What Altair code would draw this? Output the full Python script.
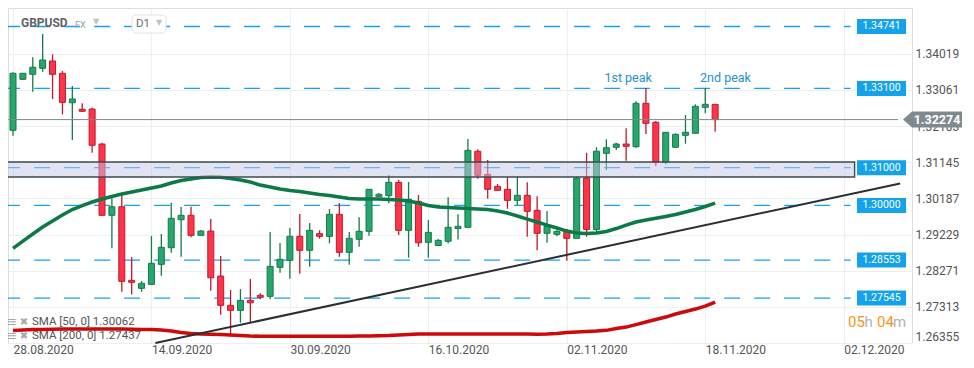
import altair as alt
import pandas as pd

symbol = "GBPUSD"
tick_idx = [0, 14, 28, 42, 56, 70, 84]
tick_labels = ["28.08.2020", "14.09.2020", "30.09.2020", "16.10.2020",
               "02.11.2020", "18.11.2020", "02.12.2020"]
y_ticks = [1.26355, 1.27313, 1.28271, 1.29229, 1.30187, 1.31145, 1.32103, 1.33061, 1.34019]

opens = [1.31990, 1.33342, 1.33474, 1.33633, 1.33827, 1.33501, 1.32721, 1.32547, 1.32554, 1.31627,
         1.29738, 1.29965, 1.28015, 1.27803, 1.27909, 1.28439, 1.28879, 1.29621, 1.29738, 1.29208,
         1.29321, 1.28129, 1.27353, 1.27220, 1.27485, 1.27618, 1.27591, 1.28360, 1.28545, 1.29181,
         1.28810, 1.29250, 1.29181, 1.29764, 1.28757, 1.29102, 1.29314, 1.30230, 1.30257, 1.30612,
         1.29340, 1.30109, 1.29022, 1.28937, 1.29049, 1.29388, 1.29420, 1.31434, 1.30824, 1.30506,
         1.30427, 1.30135, 1.30268, 1.29870, 1.29261, 1.29234, 1.29314, 1.29128, 1.30726, 1.29361,
         1.31381, 1.31540, 1.31627, 1.31555, 1.32706, 1.32202, 1.31142, 1.31540, 1.31858, 1.31911,
         1.32600, 1.32679]
highs = [1.33527, 1.33509, 1.33925, 1.34542, 1.34004, 1.33562, 1.33164, 1.32706, 1.32589, 1.31661,
         1.30188, 1.30294, 1.28633, 1.27996, 1.29189, 1.29242, 1.30071, 1.29957, 1.29965, 1.29348,
         1.29639, 1.28659, 1.27758, 1.27784, 1.28049, 1.27671, 1.29295, 1.29003, 1.29401, 1.29772,
         1.29533, 1.29340, 1.29904, 1.30063, 1.29295, 1.29685, 1.30435, 1.30328, 1.30805, 1.30673,
         1.30620, 1.30275, 1.29613, 1.29109, 1.30217, 1.29764, 1.31759, 1.31489, 1.31203, 1.30567,
         1.30745, 1.30771, 1.30612, 1.30241, 1.29851, 1.29340, 1.29382, 1.30766, 1.31396, 1.31542,
         1.31752, 1.31661, 1.32043, 1.32759, 1.33111, 1.32236, 1.31945, 1.31911, 1.32395, 1.32679,
         1.33111, 1.32687]
lows = [1.31847, 1.33323, 1.33013, 1.33543, 1.32820, 1.32414, 1.31733, 1.32490, 1.31396, 1.29730,
        1.28863, 1.27713, 1.27639, 1.27713, 1.27896, 1.28137, 1.28746, 1.28640, 1.29155, 1.29203,
        1.27739, 1.27103, 1.26520, 1.26891, 1.26891, 1.27512, 1.27512, 1.28216, 1.28057, 1.28190,
        1.28375, 1.29117, 1.28996, 1.28640, 1.28428, 1.28905, 1.29197, 1.30222, 1.30056, 1.29215,
        1.28614, 1.28905, 1.28614, 1.28924, 1.28990, 1.29096, 1.29415, 1.30707, 1.30175, 1.30395,
        1.29912, 1.30003, 1.29170, 1.28810, 1.29011, 1.29181, 1.28534, 1.29123, 1.29170, 1.29295,
        1.30938, 1.31468, 1.31184, 1.31529, 1.31892, 1.31044, 1.31089, 1.31535, 1.31635, 1.31906,
        1.32441, 1.31953]
closes = [1.33501, 1.33501, 1.33660, 1.33853, 1.33474, 1.32732, 1.32820, 1.32494, 1.31593, 1.29738,
          1.29965, 1.27989, 1.27962, 1.27936, 1.28466, 1.28890, 1.29658, 1.29738, 1.29208, 1.29321,
          1.28084, 1.27353, 1.27220, 1.27485, 1.27421, 1.27565, 1.28386, 1.28572, 1.29181, 1.28810,
          1.29340, 1.29181, 1.29764, 1.28757, 1.29128, 1.29314, 1.30427, 1.30294, 1.30612, 1.29340,
          1.30162, 1.29011, 1.29287, 1.29075, 1.29420, 1.29446, 1.31460, 1.30798, 1.30427, 1.30400,
          1.30135, 1.30268, 1.29844, 1.29261, 1.29446, 1.29314, 1.29128, 1.30726, 1.29361, 1.31436,
          1.31529, 1.31627, 1.31566, 1.32706, 1.32176, 1.31142, 1.31937, 1.31884, 1.31937, 1.32626,
          1.32679, 1.32274]
sma50 = [1.28863, 1.29056, 1.29242, 1.29427, 1.29586, 1.29745, 1.29891, 1.29997, 1.30090, 1.30169,
         1.30236, 1.30302, 1.30355, 1.30408, 1.30461, 1.30514, 1.30593, 1.30660, 1.30699, 1.30739,
         1.30753, 1.30745, 1.30713, 1.30673, 1.30620, 1.30540, 1.30487, 1.30434, 1.30395, 1.30368,
         1.30328, 1.30289, 1.30262, 1.30222, 1.30183, 1.30169, 1.30169, 1.30169, 1.30156, 1.30143,
         1.30116, 1.30063, 1.29997, 1.29957, 1.29944, 1.29931, 1.29918, 1.29904, 1.29891, 1.29851,
         1.29798, 1.29719, 1.29639, 1.29560, 1.29480, 1.29401, 1.29321, 1.29268, 1.29255, 1.29268,
         1.29308, 1.29388, 1.29480, 1.29560, 1.29613, 1.29658, 1.29706, 1.29759, 1.29825, 1.29891,
         1.29971, 1.30062]
sma200 = [1.26685, 1.26698, 1.26711, 1.26711, 1.26717, 1.26724, 1.26724, 1.26724, 1.26724, 1.26724,
          1.26724, 1.26724, 1.26719, 1.26714, 1.26711, 1.26698, 1.26671, 1.26631, 1.26605, 1.26592,
          1.26586, 1.26579, 1.26565, 1.26552, 1.26539, 1.26534, 1.26531, 1.26531, 1.26531, 1.26531,
          1.26531, 1.26531, 1.26531, 1.26531, 1.26534, 1.26539, 1.26539, 1.26545, 1.26552, 1.26565,
          1.26579, 1.26592, 1.26592, 1.26592, 1.26592, 1.26592, 1.26592, 1.26592, 1.26592, 1.26592,
          1.26592, 1.26592, 1.26592, 1.26586, 1.26592, 1.26605, 1.26631, 1.26645, 1.26658, 1.26671,
          1.26690, 1.26737, 1.26777, 1.26843, 1.26910, 1.26976, 1.27042, 1.27122, 1.27188, 1.27254,
          1.27334, 1.27437]

levels = [1.34741, 1.33100, 1.31000, 1.30000, 1.28553, 1.27545]
zone = [1.30752, 1.31150]
last_price = 1.32274
trend_idx = [14.4, 89.7]
trend_price = [1.26355, 1.30583]
peak_idx = [62.2, 72.05]
peak_price = [1.33376, 1.33376]
peak_labels = ["1st peak", "2nd peak"]
timer_parts = ["05", "h", "04", "m"]

UP_FILL, UP_LINE = "#27a66d", "#167a49"
DN_FILL, DN_LINE = "#ff3448", "#bd1a2e"
BLUE = "#14a3ea"

cdf = pd.DataFrame({"i": list(range(len(opens))), "open": opens, "high": highs,
                    "low": lows, "close": closes, "sma50": sma50, "sma200": sma200})
ldf = pd.DataFrame({"price": levels})
zdf = pd.DataFrame({"lo": [zone[0]], "hi": [zone[1]]})
pdf = pd.DataFrame({"price": [last_price]})
tdf = pd.DataFrame({"i": trend_idx, "price": trend_price})
kdf = pd.DataFrame({"i": peak_idx, "price": peak_price, "label": peak_labels})

lab_js = "[" + ",".join("'%s'" % d for d in tick_labels) + "]"
idx_js = "[" + ",".join(str(v) for v in tick_idx) + "]"

xscale = alt.Scale(domain=[0, 90.4], nice=False, zero=False)
yscale = alt.Scale(domain=[1.26355, 1.35231], nice=False, zero=False)
xaxis = alt.Axis(values=tick_idx, labelExpr=f"{lab_js}[indexof({idx_js}, datum.value)]",
                 grid=True, gridColor="#efefef", domain=False, ticks=False,
                 labelAlign="left", labelBaseline="top", labelPadding=1, labelFlush=False,
                 labelOverlap=False, labelFontSize=12, labelColor="#555555", title=None)
yaxis = alt.Axis(orient="right", values=y_ticks, format=".5f", grid=True, gridColor="#eeeeee",
                 domain=False, ticks=False, labelPadding=3, labelFlush=True, labelOverlap=False,
                 labelFontSize=12, labelColor="#555555", title=None)


def X(f):
    return alt.X(f, type="quantitative", scale=xscale, axis=xaxis, title=None)


def Y(f):
    return alt.Y(f, type="quantitative", scale=yscale, axis=yaxis, title=None)


def XD(v):
    return alt.XDatum(v, type="quantitative", scale=xscale, axis=xaxis)


up = "datum.close >= datum.open"

level_lines = alt.Chart(ldf).mark_rule(color=BLUE, strokeWidth=1.3, strokeDash=[16, 14]).encode(
    x=XD(-0.9), x2=alt.X2Datum(84.7), y=Y("price"))

wicks = alt.Chart(cdf).mark_rule(strokeWidth=1.3).encode(
    x=X("i"), y=Y("low"), y2="high",
    color=alt.condition(up, alt.value(UP_LINE), alt.value(DN_LINE)))

bodies = alt.Chart(cdf).mark_bar(size=6, strokeWidth=1).encode(
    x=X("i"), y=Y("open"), y2="close",
    fill=alt.condition(up, alt.value(UP_FILL), alt.value(DN_FILL)),
    stroke=alt.condition(up, alt.value(UP_LINE), alt.value(DN_LINE)))

sma200_line = alt.Chart(cdf).mark_line(color="#cc0a0a", strokeWidth=3.5).encode(
    x=X("i"), y=Y("sma200"))
sma50_line = alt.Chart(cdf).mark_line(color="#0b7a46", strokeWidth=3.5).encode(
    x=X("i"), y=Y("sma50"))

trend = alt.Chart(tdf).mark_line(color="#2a2f36", strokeWidth=2).encode(x=X("i"), y=Y("price"))

zone_rect = alt.Chart(zdf).mark_rect(fill="#c3c7e8", fillOpacity=0.5, stroke="#3e4852",
                                     strokeWidth=1.4).encode(
    x=XD(-1.5), x2=alt.X2Datum(85.1), y=Y("lo"), y2="hi")

price_line = alt.Chart(pdf).mark_rule(color="#7d888d", strokeWidth=1).encode(
    x=XD(-1), x2=alt.X2Datum(89.5), y=Y("price"))

box_shape = "M-1,-0.306L1,-0.306L1,0.306L-1,0.306Z"
level_boxes = alt.Chart(ldf).mark_point(shape=box_shape, filled=True, size=2401, opacity=1,
                                        color=BLUE, strokeWidth=0).encode(
    x=alt.value(873.5), y=Y("price"))
level_text = alt.Chart(ldf).mark_text(color="white", fontSize=10.5, align="center",
                                      baseline="middle").encode(
    x=alt.value(873.5), y=Y("price"), text=alt.Text("price:Q", format=".5f"))

arrow_shape = "M-1,0L-0.695,-0.271L1,-0.271L1,0.271L-0.695,0.271Z"
price_box = alt.Chart(pdf).mark_point(shape=arrow_shape, filled=True, size=3481, opacity=1,
                                      color="#7f8a8f", strokeWidth=0).encode(
    x=alt.value(924.5), y=Y("price"))
price_text = alt.Chart(pdf).mark_text(color="white", fontSize=12.5, fontWeight="bold",
                                      align="center", baseline="middle").encode(
    x=alt.value(929), y=Y("price"), text=alt.Text("price:Q", format=".5f"))

peaks = alt.Chart(kdf).mark_text(color="#2590d0", fontSize=12.5, align="center",
                                 baseline="middle").encode(
    x=X("i"), y=Y("price"), text="label:N")


def label(txt, x, y, size=11.5, color="#555555", align="left", weight="normal", font="Roboto"):
    return alt.Chart(pd.DataFrame({"t": [txt]})).mark_text(
        fontSize=size, color=color, align=align, baseline="middle", fontWeight=weight,
        font=font).encode(x=alt.value(x), y=alt.value(y), text="t:N")


legend = [
    label("≡", 4, 313.5, size=13, color="#a8a8a8", align="center", font="DejaVu Sans"),
    label("✖", 16, 313.5, size=10, color="#a8a8a8", align="center", font="DejaVu Sans"),
    label(f"SMA [50, 0] {sma50[-1]:.5f}", 24, 313.7),
    label("≡", 4, 327.5, size=13, color="#a8a8a8", align="center", font="DejaVu Sans"),
    label("✖", 16, 327.5, size=10, color="#a8a8a8", align="center", font="DejaVu Sans"),
    label(f"SMA [200, 0] {sma200[-1]:.5f}", 24, 327.7),
]

timer = [
    label(timer_parts[0], 840, 314, size=15, color="#f7941d"),
    label(timer_parts[1], 856.5, 314, size=15, color="#b3b3b3"),
    label(timer_parts[2], 869, 314, size=15, color="#f7941d"),
    label(timer_parts[3], 885, 314, size=15, color="#b3b3b3"),
]

d1_box = alt.Chart(pd.DataFrame({"t": ["D1"]})).mark_rect(
    fill="white", stroke="#e2e2e2", strokeWidth=1, cornerRadius=4).encode(
    x=alt.value(124), x2=alt.value(158), y=alt.value(7), y2=alt.value(25))

header = [
    label(symbol, 13, 15, size=12, color="#5f6368", weight="bold"),
    label("FX", 67, 16.5, size=9, color="#9aa0a6"),
    label("▼", 88, 13.5, size=8, color="#c2c2c2", align="center", font="DejaVu Sans"),
    d1_box,
    label("D1", 128, 16, size=11.5, color="#6b6b6b"),
    label("▼", 151, 14.5, size=8, color="#c2c2c2", align="center", font="DejaVu Sans"),
]

chart = alt.layer(
    level_lines, wicks, bodies, sma200_line, sma50_line, trend, zone_rect, price_line,
    level_boxes, level_text, price_box, price_text, peaks, *legend, *timer, *header
).properties(
    width=904, height=335,
    padding={"left": 0, "top": 0, "right": 52, "bottom": 13},
    autosize=alt.AutoSizeParams(type="none"),
    background="white",
).configure_view(stroke=None).configure(font="Roboto").configure_axis(labelFont="Roboto")

chart.save("out.html", embed_options={"renderer": "svg", "actions": False})
